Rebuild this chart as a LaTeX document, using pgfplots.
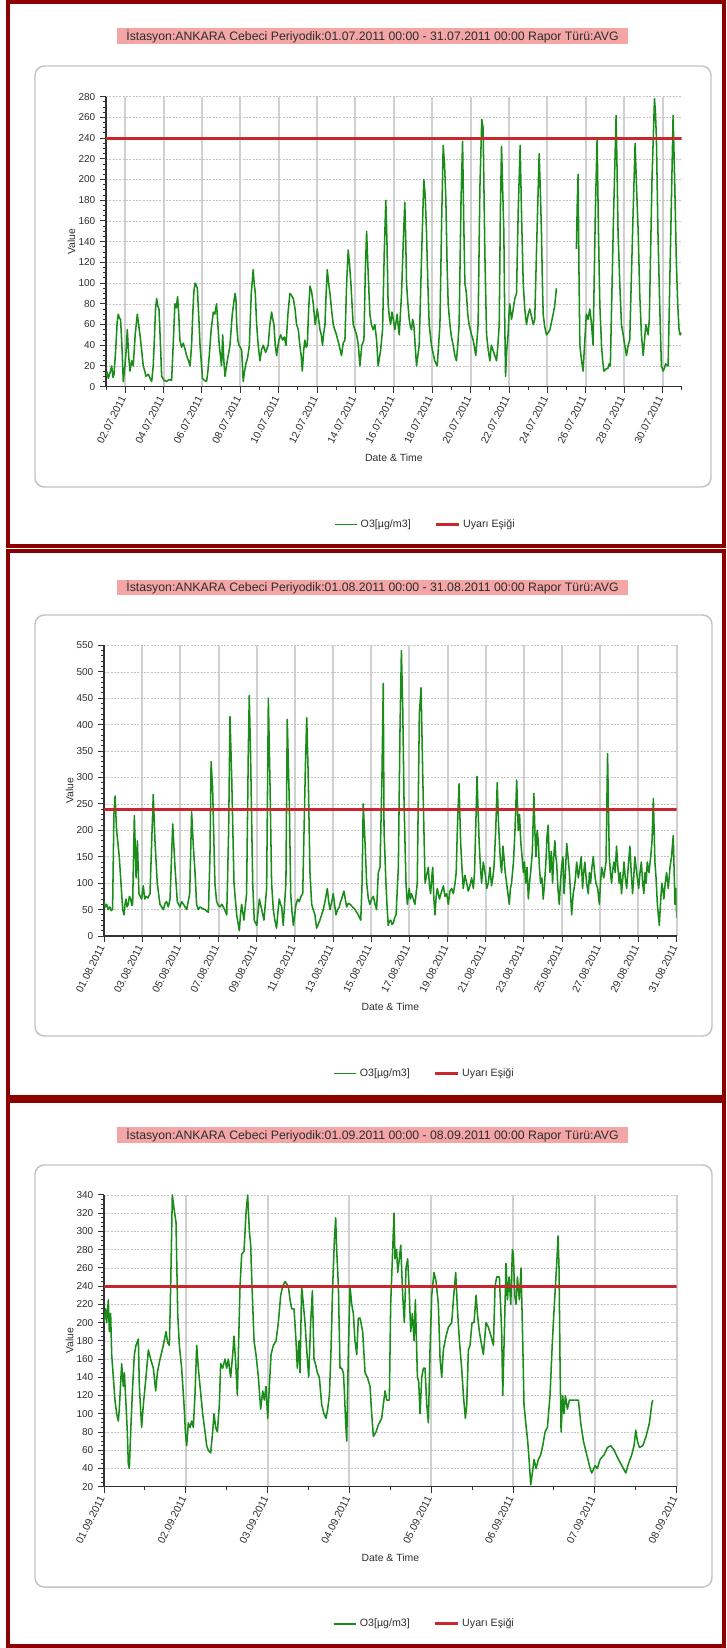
\documentclass[border=0pt]{standalone}
\usepackage{fontspec}
\setmainfont{Liberation Sans}
\usepackage{pgfplots}
\pgfplotsset{compat=1.18}
\definecolor{framered}{RGB}{140,0,0}
\definecolor{o3}{RGB}{25,140,25}
\definecolor{warn}{RGB}{200,40,45}
\definecolor{titlebg}{RGB}{244,166,166}
\definecolor{boxgray}{RGB}{195,195,195}
\definecolor{vgrid}{RGB}{208,208,208}
\definecolor{hgrid}{RGB}{195,195,195}
\definecolor{axisgray}{RGB}{50,50,50}
\definecolor{txt}{RGB}{45,45,45}

\pgfplotsset{
 panel/.style={
  scale only axis,
  axis x line*=bottom, axis y line*=left,
  axis line style={-, draw=axisgray, line width=1.1pt},
  tick align=outside,
  major tick length=4.5pt, minor tick length=2.6pt,
  tick style={draw=axisgray, line width=0.7pt},
  xmajorgrids, ymajorgrids,
  x grid style={draw=vgrid, line width=1.5pt},
  y grid style={draw=hgrid, line width=0.4pt, dash pattern=on 1.5pt off 1pt},
  enlargelimits=false,
  /pgf/number format/assume math mode=true,
  yticklabel style={font=\fontsize{7.5}{9}\selectfont, text=txt},
  xticklabel style={font=\fontsize{7.8}{9}\selectfont, text=txt, rotate=63, anchor=east},
  xlabel={Date \& Time},
  ylabel={Value},
  label style={font=\fontsize{7.8}{9}\selectfont, text=txt},
  xlabel style={at={(axis description cs:0.5,-0.245)}, anchor=center},
  ylabel style={at={(axis description cs:-0.06,0.5)}, anchor=center},
  legend style={draw=none, fill=none, anchor=center, font=\fontsize{8}{10}\selectfont, text=txt,
    legend columns=2, /tikz/every even column/.append style={column sep=16pt}},
  o3line/.style={draw=o3, line width=1.15pt, mark=none, line join=round},
  warnline/.style={draw=warn, line width=2.2pt, mark=none},
 }
}

\begin{document}
\begin{tikzpicture}
\begin{scope}[x=0.75pt,y=-0.75pt]
\useasboundingbox (0,0) rectangle (726,1648);
% rounded boxes
\draw[boxgray, line width=1.1pt, rounded corners=7pt] (35,66) rectangle (711,487);
\draw[boxgray, line width=1.1pt, rounded corners=7pt] (35,615) rectangle (712,1036);
\draw[boxgray, line width=1.1pt, rounded corners=7pt] (35,1165) rectangle (712,1587);
% titles
\node[fill=titlebg, minimum width=383pt, minimum height=11.5pt, inner sep=0pt, text=txt, font=\fontsize{9.2}{11}\selectfont] at (372.5,36) {İstasyon:ANKARA Cebeci Periyodik:01.07.2011 00:00 - 31.07.2011 00:00 Rapor Türü:AVG};
\node[fill=titlebg, minimum width=383pt, minimum height=11.5pt, inner sep=0pt, text=txt, font=\fontsize{9.2}{11}\selectfont] at (372.5,587.5) {İstasyon:ANKARA Cebeci Periyodik:01.08.2011 00:00 - 31.08.2011 00:00 Rapor Türü:AVG};
\node[fill=titlebg, minimum width=383pt, minimum height=11.5pt, inner sep=0pt, text=txt, font=\fontsize{9.2}{11}\selectfont] at (372.5,1135) {İstasyon:ANKARA Cebeci Periyodik:01.09.2011 00:00 - 08.09.2011 00:00 Rapor Türü:AVG};
% frames
\draw[framered, line width=3pt] (8,2) rectangle (724,546);
\draw[framered, line width=3pt] (8,551) rectangle (724,1097);
\draw[framered, line width=3pt] (8,1101) rectangle (724,1646);
\end{scope}

% ---------------- Panel 1: July
\begin{axis}[panel,
  at={(79.5pt,-290pt)}, anchor=south west,
  width=431.8pt, height=217.5pt,
  xmin=0, xmax=30, ymin=0, ymax=280,
  ytick={0,20,...,280}, minor y tick num=3,
  xtick={1,3,...,29},
  xticklabels={02.07.2011,04.07.2011,06.07.2011,08.07.2011,10.07.2011,12.07.2011,14.07.2011,16.07.2011,18.07.2011,20.07.2011,22.07.2011,24.07.2011,26.07.2011,28.07.2011,30.07.2011},
  minor xtick={0,2,...,30},
  unbounded coords=jump,
  legend style={at={(0.555,-0.475)}},
]
\addplot[o3line] coordinates {
(0.00,10) (0.06,14) (0.12,8) (0.22,14) (0.30,20) (0.36,9) (0.42,12) (0.52,40) (0.58,62) (0.64,70) (0.70,66) (0.76,65) (0.84,35) (0.90,5) (0.99,20) (1.05,35) (1.11,55) (1.18,30) (1.25,15) (1.34,25) (1.42,20) (1.52,50) (1.63,70) (1.70,60) (1.77,50) (1.86,35) (1.94,20) (2.02,15) (2.08,10) (2.20,12) (2.30,8) (2.38,5) (2.46,20) (2.52,45) (2.58,75) (2.64,85) (2.70,78) (2.76,75) (2.84,40) (2.90,10) (3.03,6) (3.16,5) (3.30,7) (3.42,6) (3.50,40) (3.59,80) (3.66,76) (3.73,87) (3.79,70) (3.85,45) (3.94,38) (4.03,42) (4.12,36) (4.20,30) (4.30,25) (4.38,20) (4.46,40) (4.52,70) (4.58,92) (4.64,100) (4.70,98) (4.76,95) (4.84,65) (4.90,40) (5.03,8) (5.14,6) (5.24,5) (5.31,15) (5.38,30) (5.48,55) (5.59,72) (5.67,70) (5.76,80) (5.83,60) (5.90,40) (6.02,20) (6.08,50) (6.14,25) (6.20,10) (6.32,25) (6.46,40) (6.58,70) (6.72,90) (6.77,85) (6.81,60) (6.87,45) (6.93,40) (7.00,38) (7.07,35) (7.15,5) (7.22,15) (7.29,22) (7.38,28) (7.47,40) (7.57,90) (7.67,113) (7.72,100) (7.78,90) (7.85,60) (7.93,40) (8.02,25) (8.10,35) (8.19,40) (8.32,33) (8.45,40) (8.54,60) (8.63,72) (8.69,65) (8.75,60) (8.82,40) (8.89,30) (8.95,38) (9.01,45) (9.10,50) (9.20,45) (9.29,48) (9.38,40) (9.48,70) (9.58,90) (9.67,88) (9.76,85) (9.85,75) (9.93,60) (10.02,55) (10.10,40) (10.17,30) (10.23,15) (10.30,35) (10.36,45) (10.43,38) (10.49,40) (10.56,75) (10.63,97) (10.71,92) (10.80,80) (10.90,60) (11.01,75) (11.08,65) (11.15,55) (11.22,50) (11.28,40) (11.35,52) (11.41,60) (11.47,90) (11.53,113) (11.60,100) (11.67,90) (11.75,75) (11.84,60) (11.92,55) (12.01,50) (12.08,45) (12.15,40) (12.21,35) (12.27,30) (12.36,42) (12.45,45) (12.54,100) (12.62,132) (12.69,118) (12.76,100) (12.82,80) (12.88,60) (12.97,55) (13.06,50) (13.15,40) (13.23,20) (13.33,40) (13.44,45) (13.51,110) (13.58,150) (13.66,110) (13.75,70) (13.83,60) (13.92,55) (14.01,60) (14.10,45) (14.18,20) (14.25,28) (14.31,35) (14.41,55) (14.50,130) (14.58,180) (14.64,140) (14.70,80) (14.76,68) (14.83,60) (14.90,72) (14.97,65) (15.05,55) (15.11,62) (15.17,70) (15.23,58) (15.28,50) (15.40,90) (15.49,140) (15.57,178) (15.62,140) (15.66,100) (15.73,80) (15.80,65) (15.86,58) (15.92,55) (15.98,65) (16.04,60) (16.11,40) (16.18,20) (16.25,30) (16.32,40) (16.45,130) (16.56,200) (16.63,185) (16.70,150) (16.77,100) (16.84,60) (16.90,50) (16.96,40) (17.05,32) (17.13,25) (17.20,22) (17.26,20) (17.33,40) (17.40,60) (17.49,160) (17.57,233) (17.64,215) (17.71,180) (17.77,120) (17.83,80) (17.92,60) (18.00,48) (18.09,40) (18.18,30) (18.26,25) (18.33,40) (18.40,60) (18.50,180) (18.58,237) (18.64,160) (18.70,100) (18.78,90) (18.85,70) (18.92,60) (19.02,52) (19.13,45) (19.20,38) (19.27,30) (19.33,45) (19.39,60) (19.48,190) (19.58,258) (19.65,250) (19.74,130) (19.83,50) (19.92,35) (20.00,25) (20.08,40) (20.17,35) (20.26,30) (20.35,25) (20.42,40) (20.49,60) (20.55,170) (20.61,232) (20.67,190) (20.73,150) (20.78,60) (20.82,10) (20.88,35) (20.95,50) (21.00,70) (21.04,80) (21.13,65) (21.22,75) (21.30,85) (21.39,90) (21.48,170) (21.58,233) (21.66,160) (21.74,100) (21.82,75) (21.91,60) (22.00,70) (22.08,75) (22.17,68) (22.26,60) (22.34,65) (22.46,150) (22.57,225) (22.63,190) (22.69,150) (22.74,100) (22.78,70) (22.86,58) (22.95,50) (23.04,52) (23.13,55) (23.21,62) (23.30,70) (23.38,78) (23.47,95) (24.0,nan) (24.51,133) (24.56,180) (24.60,205) (24.64,120) (24.69,40) (24.78,25) (24.86,15) (24.95,45) (25.03,70) (25.12,65) (25.21,75) (25.30,60) (25.38,40) (25.50,170) (25.59,240) (25.66,150) (25.73,80) (25.82,40) (25.88,25) (25.94,15) (26.05,17) (26.16,18) (26.22,22) (26.28,20) (26.44,160) (26.58,262) (26.63,210) (26.68,150) (26.77,100) (26.86,60) (26.95,50) (27.03,40) (27.12,30) (27.21,40) (27.29,45) (27.44,150) (27.57,235) (27.65,190) (27.73,150) (27.81,90) (27.90,50) (27.99,30) (28.06,45) (28.13,60) (28.19,55) (28.25,50) (28.31,65) (28.45,200) (28.58,278) (28.63,265) (28.68,240) (28.76,150) (28.85,80) (28.94,20) (29.03,15) (29.10,18) (29.16,22) (29.29,20) (29.43,150) (29.55,262) (29.63,200) (29.72,120) (29.79,80) (29.86,55) (29.92,50) (29.98,52)
};
\addlegendentry{O3[µg/m3]}
\addplot[warnline] coordinates {(0,240) (30,240)};
\addlegendentry{Uyarı Eşiği}
\end{axis}

% ---------------- Panel 2: August
\begin{axis}[panel,
  at={(78pt,-702pt)}, anchor=south west,
  width=429.5pt, height=218pt,
  xmin=0, xmax=30, ymin=0, ymax=550,
  ytick={0,50,...,550}, minor y tick num=4,
  xtick={0,2,...,30},
  xticklabels={01.08.2011,03.08.2011,05.08.2011,07.08.2011,09.08.2011,11.08.2011,13.08.2011,15.08.2011,17.08.2011,19.08.2011,21.08.2011,23.08.2011,25.08.2011,27.08.2011,29.08.2011,31.08.2011},
  minor xtick={1,3,...,29},
  legend style={at={(0.56,-0.473)}},
]
\addplot[o3line] coordinates {
(0.00,65) (0.07,55) (0.14,60) (0.22,50) (0.31,55) (0.38,48) (0.45,50) (0.52,230) (0.58,265) (0.66,200) (0.80,150) (0.89,100) (0.98,50) (1.05,40) (1.10,60) (1.15,70) (1.21,55) (1.27,60) (1.33,75) (1.40,70) (1.45,58) (1.50,60) (1.59,228) (1.68,110) (1.75,180) (1.83,80) (1.90,75) (1.97,70) (2.06,95) (2.13,70) (2.20,75) (2.30,72) (2.41,80) (2.58,268) (2.67,180) (2.79,100) (2.93,60) (3.02,55) (3.11,50) (3.20,62) (3.28,65) (3.37,55) (3.46,70) (3.60,212) (3.72,130) (3.84,65) (3.91,60) (3.98,55) (4.07,65) (4.16,60) (4.25,55) (4.33,50) (4.49,80) (4.59,235) (4.68,170) (4.77,120) (4.85,60) (4.94,50) (5.03,55) (5.16,52) (5.29,50) (5.38,47) (5.47,45) (5.55,150) (5.61,330) (5.69,280) (5.81,100) (5.90,65) (5.99,58) (6.08,55) (6.17,60) (6.25,55) (6.34,48) (6.43,40) (6.53,200) (6.60,415) (6.69,300) (6.81,100) (6.95,40) (7.02,25) (7.09,10) (7.15,40) (7.21,60) (7.27,45) (7.33,30) (7.40,55) (7.47,80) (7.56,350) (7.61,455) (7.68,340) (7.79,100) (7.87,30) (8.00,20) (8.07,45) (8.14,70) (8.20,60) (8.26,50) (8.32,40) (8.38,30) (8.52,90) (8.61,450) (8.70,280) (8.78,100) (8.87,50) (8.95,30) (9.04,15) (9.11,45) (9.18,70) (9.25,60) (9.31,55) (9.35,35) (9.39,20) (9.53,100) (9.60,410) (9.71,250) (9.78,80) (9.85,45) (9.92,20) (9.99,40) (10.06,60) (10.15,70) (10.23,65) (10.32,75) (10.41,80) (10.55,320) (10.62,413) (10.70,300) (10.79,120) (10.88,60) (10.96,50) (11.05,40) (11.10,25) (11.14,15) (11.22,22) (11.31,30) (11.40,40) (11.49,50) (11.60,70) (11.70,90) (11.77,65) (11.84,50) (11.93,65) (12.01,80) (12.08,60) (12.15,40) (12.24,50) (12.33,55) (12.39,65) (12.45,70) (12.51,78) (12.57,85) (12.64,70) (12.71,55) (12.80,62) (12.89,60) (13.02,55) (13.15,50) (13.24,45) (13.32,40) (13.39,35) (13.45,30) (13.52,100) (13.58,250) (13.67,180) (13.76,100) (13.85,70) (13.93,60) (14.02,70) (14.11,75) (14.20,60) (14.28,50) (14.37,120) (14.46,130) (14.56,300) (14.63,478) (14.67,200) (14.77,100) (14.83,55) (14.89,20) (14.95,28) (15.02,30) (15.09,22) (15.16,25) (15.23,35) (15.30,40) (15.42,130) (15.51,400) (15.58,540) (15.65,430) (15.72,250) (15.82,100) (15.89,60) (15.99,90) (16.05,70) (16.11,80) (16.20,70) (16.29,60) (16.35,80) (16.41,100) (16.52,420) (16.61,470) (16.70,300) (16.82,100) (16.90,115) (16.99,130) (17.05,95) (17.11,80) (17.17,110) (17.22,130) (17.28,70) (17.34,40) (17.40,75) (17.46,90) (17.57,70) (17.69,85) (17.78,95) (17.86,75) (17.95,80) (18.04,60) (18.12,85) (18.21,90) (18.30,80) (18.39,100) (18.45,120) (18.51,200) (18.60,288) (18.68,180) (18.75,130) (18.82,90) (18.91,115) (19.00,100) (19.08,85) (19.17,95) (19.26,110) (19.35,90) (19.41,120) (19.47,200) (19.54,302) (19.65,180) (19.72,130) (19.78,100) (19.87,140) (19.96,120) (20.05,90) (20.13,100) (20.22,130) (20.30,95) (20.37,110) (20.43,130) (20.52,200) (20.60,290) (20.66,220) (20.71,180) (20.77,140) (20.83,120) (20.90,170) (20.95,150) (21.02,120) (21.09,100) (21.16,80) (21.23,60) (21.29,90) (21.35,100) (21.45,140) (21.53,200) (21.62,295) (21.70,200) (21.77,230) (21.83,180) (21.90,150) (21.97,120) (22.03,140) (22.09,100) (22.16,130) (22.23,70) (22.29,100) (22.35,120) (22.44,160) (22.52,270) (22.58,190) (22.63,150) (22.69,200) (22.75,180) (22.81,130) (22.87,100) (22.94,110) (23.01,70) (23.08,100) (23.15,140) (23.21,190) (23.27,210) (23.32,150) (23.36,120) (23.43,160) (23.50,100) (23.56,150) (23.62,180) (23.67,150) (23.71,140) (23.78,90) (23.85,60) (23.91,100) (23.97,130) (24.04,150) (24.10,80) (24.17,120) (24.24,175) (24.31,150) (24.38,120) (24.44,80) (24.50,40) (24.58,80) (24.67,100) (24.72,120) (24.76,140) (24.85,110) (24.93,130) (25.00,150) (25.07,90) (25.13,120) (25.19,140) (25.28,100) (25.37,80) (25.43,120) (25.49,100) (25.56,130) (25.63,150) (25.70,120) (25.77,100) (25.86,90) (25.95,60) (26.01,100) (26.07,130) (26.18,110) (26.30,140) (26.38,345) (26.47,150) (26.53,120) (26.59,100) (26.65,125) (26.71,140) (26.78,120) (26.85,170) (26.92,130) (26.99,100) (27.05,120) (27.11,80) (27.18,110) (27.24,140) (27.31,110) (27.38,90) (27.46,130) (27.55,170) (27.62,120) (27.69,80) (27.75,110) (27.81,150) (27.87,130) (27.94,110) (28.01,90) (28.08,120) (28.15,140) (28.22,100) (28.28,80) (28.34,120) (28.40,100) (28.46,140) (28.55,120) (28.64,150) (28.71,180) (28.78,260) (28.86,140) (28.92,110) (28.99,60) (29.04,40) (29.09,20) (29.15,60) (29.22,100) (29.27,90) (29.33,70) (29.40,100) (29.47,120) (29.56,90) (29.65,130) (29.73,150) (29.82,190) (29.87,120) (29.91,60) (29.96,90) (30.00,35)
};
\addlegendentry{O3[µg/m3]}
\addplot[warnline] coordinates {(0,240) (30,240)};
\addlegendentry{Uyarı Eşiği}
\end{axis}

% ---------------- Panel 3: September
\begin{axis}[panel,
  at={(78pt,-1115pt)}, anchor=south west,
  width=429.5pt, height=218.8pt,
  xmin=0, xmax=7, ymin=20, ymax=340,
  ytick={20,40,...,340}, minor y tick num=3,
  xtick={0,1,...,7},
  xticklabels={01.09.2011,02.09.2011,03.09.2011,04.09.2011,05.09.2011,06.09.2011,07.09.2011,08.09.2011},
  minor xtick={0.5,1.5,...,6.5},
  legend style={at={(0.56,-0.47)}},
]
\addplot[o3line] coordinates {
(0.000,200) (0.020,215) (0.033,200) (0.053,225) (0.065,190) (0.081,210) (0.094,165) (0.114,140) (0.134,115) (0.155,100) (0.175,92) (0.187,105) (0.216,155) (0.236,130) (0.249,145) (0.269,110) (0.285,80) (0.297,45) (0.310,40) (0.326,80) (0.350,130) (0.371,165) (0.391,175) (0.420,182) (0.432,130) (0.460,85) (0.481,110) (0.513,140) (0.542,170) (0.570,160) (0.603,150) (0.632,125) (0.652,145) (0.685,160) (0.725,175) (0.758,190) (0.778,178) (0.799,175) (0.815,240) (0.835,340) (0.856,325) (0.880,310) (0.901,210) (0.921,175) (0.949,150) (0.978,110) (0.998,75) (1.011,65) (1.031,90) (1.051,85) (1.072,92) (1.092,85) (1.112,120) (1.133,175) (1.153,150) (1.174,130) (1.206,100) (1.235,80) (1.255,65) (1.275,60) (1.304,57) (1.328,80) (1.345,100) (1.365,85) (1.386,80) (1.410,110) (1.426,155) (1.451,150) (1.479,160) (1.500,150) (1.520,160) (1.548,140) (1.573,165) (1.589,185) (1.610,155) (1.630,120) (1.646,180) (1.663,240) (1.683,275) (1.711,278) (1.736,320) (1.756,340) (1.777,300) (1.793,285) (1.809,240) (1.834,180) (1.858,165) (1.887,140) (1.915,105) (1.940,125) (1.960,115) (1.980,130) (2.001,95) (2.021,130) (2.042,165) (2.070,175) (2.103,180) (2.131,200) (2.160,230) (2.184,240) (2.213,245) (2.253,240) (2.274,225) (2.294,215) (2.323,215) (2.347,180) (2.363,150) (2.384,180) (2.396,145) (2.416,240) (2.437,220) (2.457,200) (2.478,170) (2.502,140) (2.526,200) (2.547,235) (2.567,160) (2.584,155) (2.608,145) (2.632,140) (2.661,110) (2.689,100) (2.714,95) (2.734,105) (2.755,120) (2.775,170) (2.795,240) (2.816,290) (2.832,315) (2.844,280) (2.865,240) (2.885,150) (2.905,150) (2.926,145) (2.938,125) (2.954,90) (2.967,70) (2.987,170) (3.007,240) (3.028,220) (3.048,210) (3.068,180) (3.089,165) (3.109,205) (3.130,205) (3.162,190) (3.191,145) (3.219,140) (3.252,130) (3.272,100) (3.293,75) (3.325,80) (3.354,88) (3.394,95) (3.435,125) (3.456,115) (3.488,115) (3.504,220) (3.529,280) (3.545,320) (3.557,270) (3.577,280) (3.590,255) (3.610,270) (3.627,285) (3.651,230) (3.671,200) (3.692,260) (3.712,270) (3.728,240) (3.749,190) (3.769,210) (3.790,180) (3.806,225) (3.831,140) (3.847,135) (3.863,100) (3.884,140) (3.904,150) (3.924,150) (3.945,110) (3.965,90) (3.985,170) (4.006,230) (4.034,255) (4.059,245) (4.087,220) (4.108,160) (4.128,140) (4.148,170) (4.181,185) (4.210,195) (4.250,200) (4.271,225) (4.299,255) (4.320,215) (4.344,180) (4.372,150) (4.393,120) (4.417,95) (4.434,110) (4.454,170) (4.474,175) (4.499,200) (4.523,200) (4.548,230) (4.564,210) (4.588,190) (4.617,175) (4.637,165) (4.670,200) (4.698,195) (4.731,185) (4.760,175) (4.780,240) (4.800,250) (4.833,250) (4.861,190) (4.874,120) (4.894,190) (4.914,265) (4.931,225) (4.951,250) (4.972,220) (4.992,280) (5.004,275) (5.020,230) (5.037,220) (5.053,250) (5.077,225) (5.098,260) (5.118,180) (5.134,110) (5.155,90) (5.179,70) (5.200,45) (5.216,22) (5.236,35) (5.257,50) (5.281,40) (5.310,50) (5.338,55) (5.363,65) (5.391,80) (5.420,85) (5.452,120) (5.481,180) (5.505,220) (5.534,265) (5.550,295) (5.562,260) (5.575,150) (5.587,80) (5.607,120) (5.623,100) (5.640,120) (5.664,105) (5.689,115) (5.737,115) (5.799,115) (5.827,90) (5.860,70) (5.901,55) (5.942,40) (5.962,35) (6.003,43) (6.031,40) (6.064,50) (6.113,55) (6.153,63) (6.194,65) (6.235,60) (6.288,50) (6.349,40) (6.378,35) (6.410,45) (6.451,55) (6.479,65) (6.500,82) (6.520,70) (6.545,63) (6.586,65) (6.626,75) (6.667,90) (6.695,110) (6.707,115)
};
\addlegendentry{O3[µg/m3]}
\addplot[warnline] coordinates {(0,240) (7,240)};
\addlegendentry{Uyarı Eşiği}
\end{axis}
\end{tikzpicture}
\end{document}
